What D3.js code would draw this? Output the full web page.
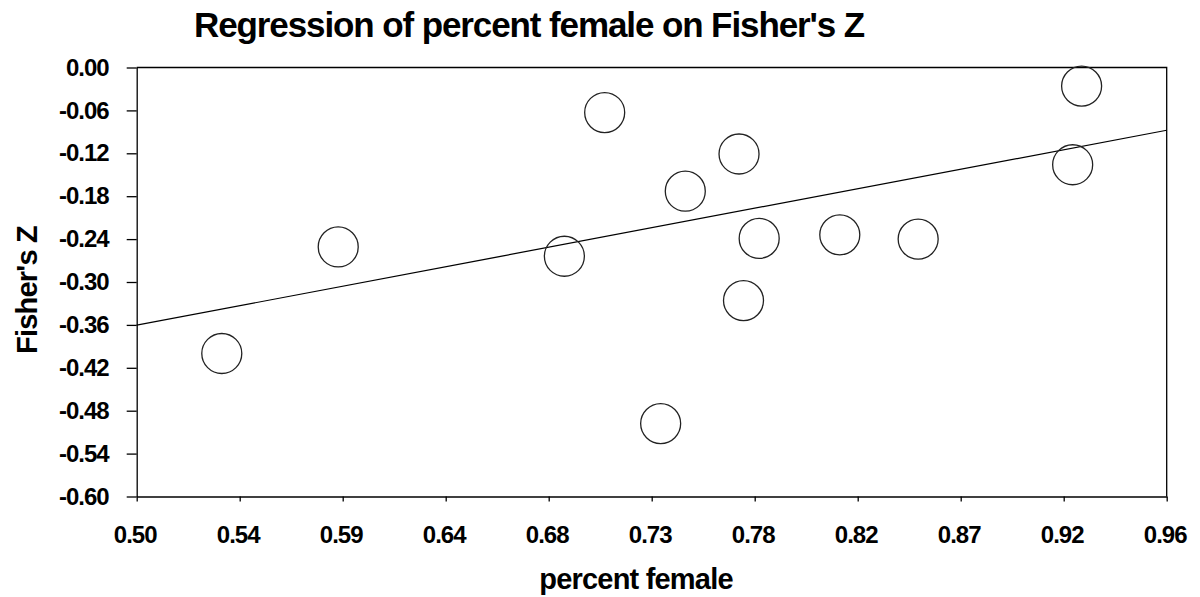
<!DOCTYPE html>
<html>
<head>
<meta charset="utf-8">
<script src="https://cdn.jsdelivr.net/npm/d3@7"></script>
<style>
  html, body { margin: 0; padding: 0; background: #fff; }
  svg { display: block; }
  text { font-family: "Liberation Sans", Arial, sans-serif; font-weight: bold; fill: #000; }
</style>
</head>
<body>
<svg id="chart" width="1200" height="597"></svg>
<script>
// ---- data ----
const percentFemale = [0.538, 0.590, 0.691, 0.709, 0.734, 0.745, 0.769, 0.771, 0.778, 0.814, 0.849, 0.918, 0.922];
const fisherZ       = [-0.400, -0.251, -0.264, -0.063, -0.498, -0.173, -0.121, -0.326, -0.239, -0.234, -0.240, -0.136, -0.026];
const regressionX = [0.50, 0.96];
const regressionY = [-0.3604, -0.0878];
const xTickValues = [0.500, 0.546, 0.592, 0.638, 0.684, 0.730, 0.776, 0.822, 0.868, 0.914, 0.960];
const xTickLabels = ["0.50", "0.54", "0.59", "0.64", "0.68", "0.73", "0.78", "0.82", "0.87", "0.92", "0.96"];
const yTickValues = [0, -0.06, -0.12, -0.18, -0.24, -0.30, -0.36, -0.42, -0.48, -0.54, -0.60];
const yTickLabels = ["0.00", "-0.06", "-0.12", "-0.18", "-0.24", "-0.30", "-0.36", "-0.42", "-0.48", "-0.54", "-0.60"];
const titleText = "Regression of percent female on Fisher's Z";
const xTitle = "percent female";
const yTitle = "Fisher's Z";

// ---- layout ----
const svg = d3.select("#chart");
const mLeft = 136.7, mRight = 1166.7, mTop = 67.5, mBottom = 496.5;

const x = d3.scaleLinear().domain([0.50, 0.96]).range([mLeft, mRight]);
const y = d3.scaleLinear().domain([-0.60, 0]).range([mBottom, mTop]);

// frame (top and right)
svg.append("path")
  .attr("d", `M${mLeft},${mTop}H${mRight}V${mBottom}`)
  .attr("fill", "none").attr("stroke", "#000").attr("stroke-width", 1.3);

// x axis
const xAxis = d3.axisBottom(x)
  .tickValues(xTickValues)
  .tickFormat((d, i) => xTickLabels[i])
  .tickSizeInner(5).tickSizeOuter(0).tickPadding(24);
const gx = svg.append("g").attr("transform", `translate(0,${mBottom})`).call(xAxis);
gx.select(".domain").attr("stroke", "#000").attr("stroke-width", 1.3);
gx.selectAll(".tick line").attr("stroke", "#000").attr("stroke-width", 1.3);
gx.selectAll(".tick text")
  .attr("font-size", 24).attr("font-family", "Liberation Sans, Arial, sans-serif")
  .attr("font-weight", "bold").attr("letter-spacing", -1).attr("dx", -2).attr("fill", "#000");

// y axis
const yAxis = d3.axisLeft(y)
  .tickValues(yTickValues)
  .tickFormat((d, i) => yTickLabels[i])
  .tickSizeInner(10).tickSizeOuter(0).tickPadding(18);
const gy = svg.append("g").attr("transform", `translate(${mLeft},0)`).call(yAxis);
gy.select(".domain").attr("stroke", "#000").attr("stroke-width", 1.3);
gy.selectAll(".tick line").attr("stroke", "#000").attr("stroke-width", 1.3);
gy.selectAll(".tick text")
  .attr("font-size", 24).attr("font-family", "Liberation Sans, Arial, sans-serif")
  .attr("font-weight", "bold").attr("letter-spacing", -1).attr("fill", "#000");

// regression line
const lineGen = d3.line().x(d => x(d[0])).y(d => y(d[1]));
svg.append("path")
  .datum(regressionX.map((v, i) => [v, regressionY[i]]))
  .attr("d", lineGen)
  .attr("fill", "none").attr("stroke", "#000").attr("stroke-width", 1.2);

// points
svg.append("g").selectAll("circle")
  .data(percentFemale.map((v, i) => [v, fisherZ[i]]))
  .join("circle")
  .attr("cx", d => x(d[0])).attr("cy", d => y(d[1]))
  .attr("r", 20)
  .attr("fill", "none").attr("stroke", "#222").attr("stroke-width", 1.3);

// titles
svg.append("text")
  .attr("x", 529).attr("y", 37)
  .attr("text-anchor", "middle")
  .attr("font-size", 35).attr("letter-spacing", -1.1)
  .text(titleText);

svg.append("text")
  .attr("x", 636).attr("y", 589)
  .attr("text-anchor", "middle")
  .attr("font-size", 29).attr("letter-spacing", -0.8)
  .text(xTitle);

svg.append("text")
  .attr("transform", "translate(37,290) rotate(-90)")
  .attr("text-anchor", "middle")
  .attr("font-size", 29).attr("letter-spacing", -0.8)
  .text(yTitle);
</script>
</body>
</html>
